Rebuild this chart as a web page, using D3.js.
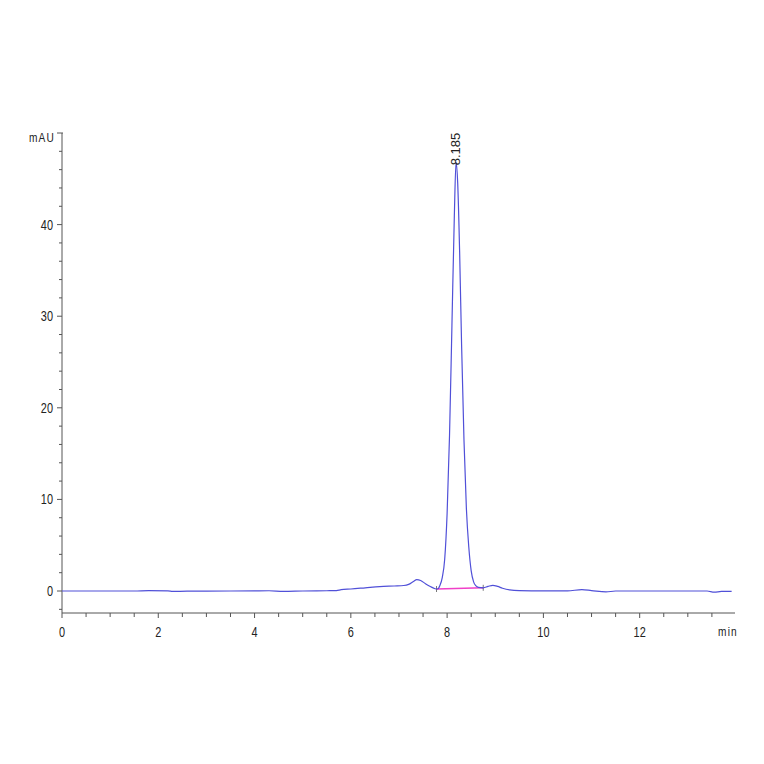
<!DOCTYPE html>
<html>
<head>
<meta charset="utf-8">
<script src="https://cdn.jsdelivr.net/npm/d3@7"></script>
<style>
  body { margin: 0; background: #fff; }
  text { font-family: "Liberation Sans", Arial, sans-serif; }
</style>
</head>
<body>
<div id="chart"></div>
<script>
// trace (time in min, signal in mAU)
const times = [0, 0.5, 1.0, 1.5, 1.8, 2.2, 2.3, 2.6, 3.0, 3.5, 4.0, 4.3, 4.6, 5.0, 5.5, 5.7, 5.8, 6.0, 6.3, 6.6, 6.9, 7.1, 7.2, 7.3, 7.37, 7.45, 7.55, 7.65, 7.75, 7.8, 7.85, 7.9, 7.95, 8.0, 8.05, 8.1, 8.15, 8.185, 8.22, 8.26, 8.3, 8.35, 8.4, 8.45, 8.5, 8.55, 8.6, 8.65, 8.75, 8.85, 8.95, 9.05, 9.15, 9.3, 9.5, 10.0, 10.5, 10.8, 11.0, 11.3, 11.5, 12.0, 12.5, 13.0, 13.4, 13.55, 13.7, 13.91];
const mAU = [0, 0, 0, 0, 0.05, 0.02, -0.05, -0.02, -0.02, 0, 0.02, 0.03, -0.05, 0, 0.03, 0.05, 0.15, 0.22, 0.35, 0.48, 0.55, 0.6, 0.72, 1.05, 1.25, 1.15, 0.8, 0.5, 0.25, 0.22, 0.6, 1.5, 3.5, 8.5, 17, 29, 41, 46.8, 44.5, 37, 27, 16.5, 9, 4.8, 2.2, 1.0, 0.55, 0.4, 0.35, 0.5, 0.62, 0.5, 0.3, 0.12, 0.05, 0.02, 0.02, 0.15, 0.05, -0.1, 0, 0, 0, 0, 0, -0.12, -0.05, -0.05];

// integration baseline of the main peak
const baseTimes = [7.78, 8.75];
const baseValues = [0.22, 0.35];

const peakLabel = "8.185";
const peakTime = 8.185;
const peakValue = 46.8;

const xTicks = [0, 2, 4, 6, 8, 10, 12];
const yTicks = [0, 10, 20, 30, 40];

const width = 764, height = 764;
const plotLeft = 62, plotRight = 735, plotTop = 133, plotBottom = 613;
const squeeze = 0.78; // narrow instrument font

const svg = d3.select("#chart").append("svg")
  .attr("width", width)
  .attr("height", height);

const x = d3.scaleLinear().domain([0, 13.98]).range([plotLeft, plotRight]);
const y = d3.scaleLinear().domain([-2.4, 50]).range([plotBottom, plotTop]);

const axisColor = "#555";

// x axis: minor every 0.5 min
const xAxis = svg.append("g").attr("transform", `translate(0,${plotBottom})`);
xAxis.append("line").attr("x1", plotLeft).attr("x2", plotRight).attr("stroke", axisColor);
xAxis.selectAll(".minor").data(d3.range(1, 28).map(d => d / 2).filter(d => d % 2 !== 0))
  .enter().append("line")
  .attr("x1", d => x(d)).attr("x2", d => x(d))
  .attr("y1", 0).attr("y2", 4).attr("stroke", axisColor);
xAxis.selectAll(".major").data(xTicks)
  .enter().append("line")
  .attr("x1", d => x(d)).attr("x2", d => x(d))
  .attr("y1", 0).attr("y2", 5).attr("stroke", axisColor);
xAxis.selectAll("text").data(xTicks)
  .enter().append("text")
  .attr("transform", d => `translate(${x(d)},24) scale(${squeeze},1)`)
  .attr("text-anchor", "middle")
  .attr("font-size", 14)
  .attr("fill", "#222")
  .text(d => d);
xAxis.append("text")
  .attr("transform", `translate(728,23) scale(${squeeze},1)`)
  .attr("text-anchor", "middle")
  .attr("font-size", 13)
  .attr("letter-spacing", 1.5)
  .attr("fill", "#222")
  .text("min");

// y axis: minor every 2 mAU
const yAxis = svg.append("g").attr("transform", `translate(${plotLeft},0)`);
yAxis.append("line").attr("y1", plotTop).attr("y2", plotBottom).attr("stroke", axisColor);
yAxis.append("line").attr("x1", -5).attr("x2", 1).attr("y1", plotTop).attr("y2", plotTop).attr("stroke", axisColor);
yAxis.selectAll(".minor").data(d3.range(-2, 50, 2).filter(d => d % 10 !== 0))
  .enter().append("line")
  .attr("y1", d => y(d)).attr("y2", d => y(d))
  .attr("x1", -3).attr("x2", 0).attr("stroke", axisColor);
yAxis.selectAll(".major").data(yTicks)
  .enter().append("line")
  .attr("y1", d => y(d)).attr("y2", d => y(d))
  .attr("x1", -5).attr("x2", 0).attr("stroke", axisColor);
yAxis.selectAll("text").data(yTicks)
  .enter().append("text")
  .attr("transform", d => `translate(-9,${y(d) + 5}) scale(${squeeze},1)`)
  .attr("text-anchor", "end")
  .attr("font-size", 14)
  .attr("fill", "#222")
  .text(d => d);
yAxis.append("text")
  .attr("transform", `translate(-7,${plotTop + 9}) scale(${squeeze},1)`)
  .attr("text-anchor", "end")
  .attr("font-size", 13)
  .attr("letter-spacing", 1.5)
  .attr("fill", "#222")
  .text("mAU");

// pink integration baseline with small end marks
svg.append("line")
  .attr("x1", x(baseTimes[0])).attr("y1", y(baseValues[0]))
  .attr("x2", x(baseTimes[1])).attr("y2", y(baseValues[1]))
  .attr("stroke", "#f040c8").attr("stroke-width", 1.6);
svg.selectAll(".endmark").data([0, 1])
  .enter().append("line")
  .attr("x1", i => x(baseTimes[i])).attr("x2", i => x(baseTimes[i]))
  .attr("y1", i => y(baseValues[i]) - 3).attr("y2", i => y(baseValues[i]) + 3)
  .attr("stroke", "#555").attr("stroke-width", 0.8);

// chromatogram trace
const trace = times.map((t, i) => [t, mAU[i]]);
const line = d3.line()
  .x(d => x(d[0]))
  .y(d => y(d[1]))
  .curve(d3.curveMonotoneX);

svg.append("path")
  .datum(trace)
  .attr("fill", "none")
  .attr("stroke", "#5050d8")
  .attr("stroke-width", 1.2)
  .attr("d", line);

// retention time label
svg.append("text")
  .attr("transform", `translate(${x(peakTime) + 4},${y(peakValue) + 3}) rotate(-90)`)
  .attr("font-size", 13)
  .attr("fill", "#222")
  .text(peakLabel);
</script>
</body>
</html>
